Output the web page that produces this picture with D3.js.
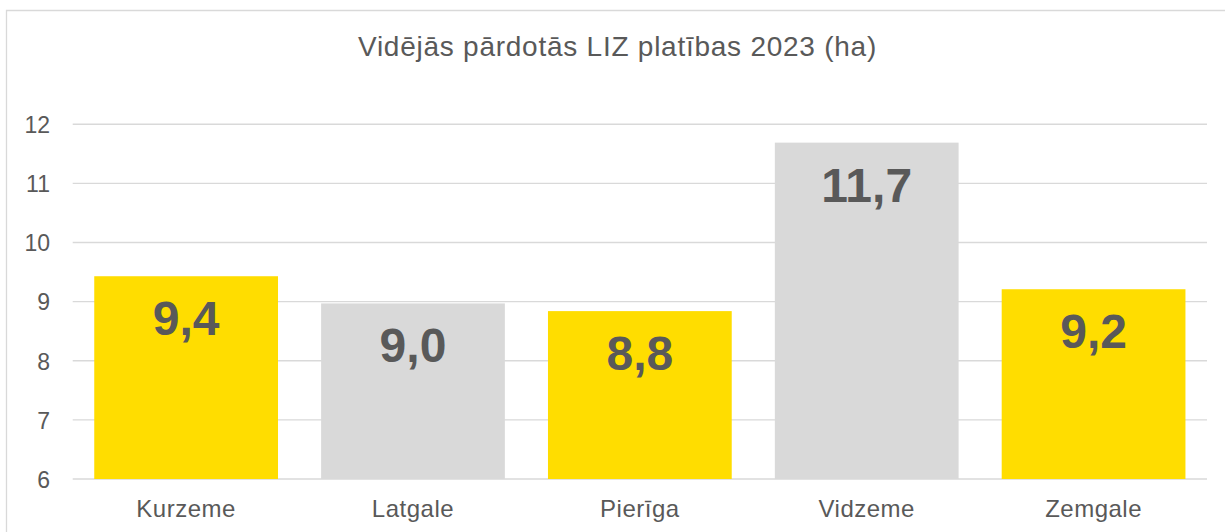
<!DOCTYPE html>
<html>
<head>
<meta charset="utf-8">
<script src="https://cdn.jsdelivr.net/npm/d3@7"></script>
<style>
  html, body { margin: 0; padding: 0; background: #fff; }
  svg { display: block; font-family: "Liberation Sans", Arial, sans-serif; }
</style>
</head>
<body>
<svg id="chart" width="1225" height="532"></svg>
<script>
const title = "Vidējās pārdotās LIZ platības 2023 (ha)";
const categories = ["Kurzeme", "Latgale", "Pierīga", "Vidzeme", "Zemgale"];
const values = [9.43, 8.97, 8.84, 11.69, 9.21];
const labels = ["9,4", "9,0", "8,8", "11,7", "9,2"];
const barColors = ["#FFDD00", "#D9D9D9", "#FFDD00", "#D9D9D9", "#FFDD00"];
const yTicks = [6, 7, 8, 9, 10, 11, 12];

const svg = d3.select("#chart");
const W = 1225, H = 532;
const plot = { left: 72.7, right: 1207, top: 124.3, bottom: 479 };

// chart frame
svg.append("path")
  .attr("d", `M6.5,${H} L6.5,10.5 L${W},10.5`)
  .attr("fill", "none").attr("stroke", "#D9D9D9").attr("stroke-width", 1.3);

svg.append("text")
  .attr("x", 617.5).attr("y", 55.5)
  .attr("text-anchor", "middle")
  .attr("font-size", 28).attr("letter-spacing", 0.75).attr("fill", "#595959")
  .text(title);

const x = d3.scaleBand().domain(categories)
  .range([plot.left, plot.right]).paddingInner(0.19).paddingOuter(0.095);
const y = d3.scaleLinear().domain([6, 12]).range([plot.bottom, plot.top]);

// gridlines
svg.append("g").selectAll("line").data(yTicks).join("line")
  .attr("x1", plot.left).attr("x2", plot.right)
  .attr("y1", d => y(d)).attr("y2", d => y(d))
  .attr("stroke", "#D9D9D9").attr("stroke-width", 1.4);

// y axis labels
const yAxis = d3.axisLeft(y).tickValues(yTicks).tickSize(0).tickPadding(0)
  .tickFormat(d3.format("d"));
const ya = svg.append("g").attr("transform", `translate(50,0)`).call(yAxis);
ya.select(".domain").remove();
ya.selectAll("text").attr("font-size", 23).attr("fill", "#595959")
  .attr("font-family", "Liberation Sans, Arial, sans-serif").attr("dy", "0.36em");

// bars
svg.append("g").selectAll("rect").data(categories).join("rect")
  .attr("x", d => x(d)).attr("width", x.bandwidth())
  .attr("y", (d, i) => y(values[i]))
  .attr("height", (d, i) => y(6) - y(values[i]))
  .attr("fill", (d, i) => barColors[i]);

// value labels
svg.append("g").selectAll("text").data(categories).join("text")
  .attr("x", d => x(d) + x.bandwidth() / 2)
  .attr("y", (d, i) => y(values[i]) + 59)
  .attr("text-anchor", "middle")
  .attr("font-size", 48).attr("font-weight", "bold").attr("fill", "#595959")
  .text((d, i) => labels[i]);

// x axis labels
const xAxis = d3.axisBottom(x).tickSize(0).tickPadding(0);
const xa = svg.append("g").attr("transform", `translate(0,${plot.bottom})`).call(xAxis);
xa.select(".domain").remove();
xa.selectAll("text").attr("font-size", 24).attr("letter-spacing", 0.5).attr("fill", "#595959")
  .attr("font-family", "Liberation Sans, Arial, sans-serif")
  .attr("dy", null).attr("y", 38);
</script>
</body>
</html>
